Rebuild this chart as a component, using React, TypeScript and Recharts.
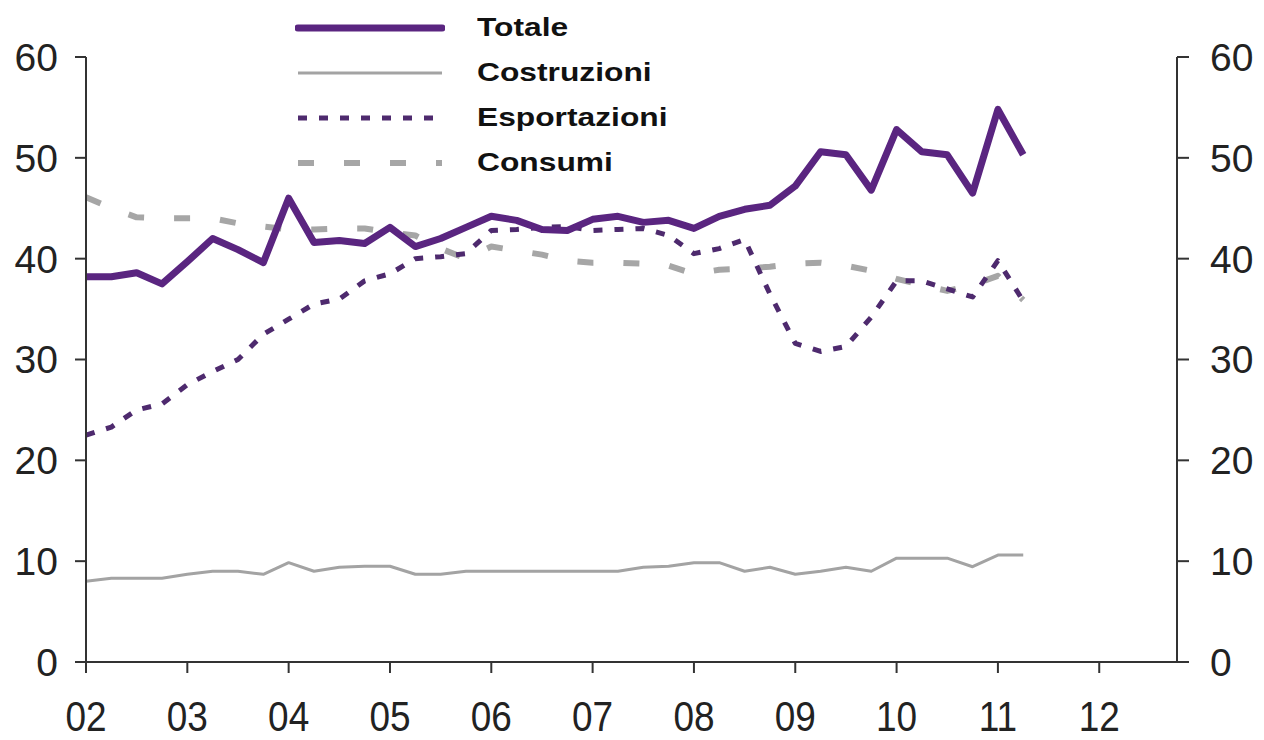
import React from "react";
import { LineChart, Line, XAxis, YAxis, Legend } from "recharts";

// trimestri 2002T1 - 2011T2
const trimestri = [
  "02T1", "02T2", "02T3", "02T4", "03T1", "03T2", "03T3", "03T4",
  "04T1", "04T2", "04T3", "04T4", "05T1", "05T2", "05T3", "05T4",
  "06T1", "06T2", "06T3", "06T4", "07T1", "07T2", "07T3", "07T4",
  "08T1", "08T2", "08T3", "08T4", "09T1", "09T2", "09T3", "09T4",
  "10T1", "10T2", "10T3", "10T4", "11T1", "11T2",
];

const totale = [
  38.2, 38.2, 38.6, 37.5, 39.7, 42.0, 40.9, 39.6,
  46.0, 41.6, 41.8, 41.5, 43.1, 41.2, 42.0, 43.1,
  44.2, 43.8, 42.9, 42.8, 43.9, 44.2, 43.6, 43.8,
  43.0, 44.2, 44.9, 45.3, 47.2, 50.6, 50.3, 46.8,
  52.8, 50.6, 50.3, 46.5, 54.8, 50.3,
];

const costruzioni = [
  8.0, 8.3, 8.3, 8.3, 8.7, 9.0, 9.0, 8.7,
  9.85, 9.0, 9.4, 9.5, 9.5, 8.7, 8.7, 9.0,
  9.0, 9.0, 9.0, 9.0, 9.0, 9.0, 9.4, 9.5,
  9.85, 9.85, 9.0, 9.4, 8.7, 9.0, 9.4, 9.0,
  10.3, 10.3, 10.3, 9.45, 10.6, 10.6,
];

const esportazioni = [
  22.5, 23.3, 25.0, 25.6, 27.5, 28.8, 30.0, 32.5,
  34.0, 35.5, 36.0, 37.8, 38.5, 40.0, 40.2, 40.5,
  42.8, 42.9, 43.1, 43.2, 42.8, 42.9, 43.0, 42.3,
  40.5, 41.0, 41.9, 36.5, 31.6, 30.8, 31.3, 34.2,
  37.8, 37.8, 37.0, 36.2, 39.8, 35.8,
];

const consumi = [
  46.1, 45.0, 44.1, 44.0, 44.0, 44.0, 43.5, 43.2,
  42.9, 42.9, 43.0, 43.0, 42.6, 42.3, 41.0, 40.0,
  41.2, 40.8, 40.4, 39.8, 39.6, 39.6, 39.5, 39.3,
  38.5, 38.9, 39.0, 39.2, 39.5, 39.6, 39.3, 38.8,
  38.0, 37.4, 36.8, 37.4, 38.3, 35.9,
];

const anni = ["02", "03", "04", "05", "06", "07", "08", "09", "10", "11", "12"];
const yTicks = [0, 10, 20, 30, 40, 50, 60];

const data = trimestri.map((t, i) => ({
  t,
  x: i,
  totale: totale[i],
  costruzioni: costruzioni[i],
  esportazioni: esportazioni[i],
  consumi: consumi[i],
}));

const xTicks = anni.map((_, i) => i * 4);

const FONT = "'Liberation Sans', Arial, sans-serif";
const AXIS = "#333";

// both value axes share the 0-60 scale; costruzioni is hung on the right one
const serie = [
  { key: "totale", name: "Totale", color: "#5a2580", width: 7, dash: undefined, cap: "round", axis: "left" },
  { key: "costruzioni", name: "Costruzioni", color: "#a3a3a3", width: 3, dash: undefined, cap: "butt", axis: "right" },
  { key: "esportazioni", name: "Esportazioni", color: "#4e2a6e", width: 5, dash: "9 12", cap: "butt", axis: "left" },
  { key: "consumi", name: "Consumi", color: "#a6a6a6", width: 6, dash: "16 30", cap: "butt", axis: "left" },
];

const XTick = (props: any) => {
  const { x, y, payload } = props;
  return (
    <g transform={`translate(${x},${y})`}>
      <text
        transform="scale(0.88,1)"
        textAnchor="middle"
        y={56}
        fontSize={42}
        fill="#222"
        fontFamily={FONT}
      >
        {anni[Math.round(payload.value / 4)]}
      </text>
    </g>
  );
};

const Legenda = () => (
  <div style={{ fontFamily: FONT }}>
    {serie.map((s) => (
      <div key={s.key} style={{ display: "flex", alignItems: "center", height: 45 }}>
        <svg width={150} height={14}>
          <line
            x1={3}
            y1={7}
            x2={147}
            y2={7}
            stroke={s.color}
            strokeWidth={s.width}
            strokeDasharray={s.dash}
            strokeLinecap={s.cap as any}
          />
        </svg>
        <span
          style={{
            marginLeft: 32,
            fontWeight: "bold",
            fontSize: 25,
            color: "#111",
            display: "inline-block",
            transform: "scaleX(1.27)",
            transformOrigin: "left center",
          }}
        >
          {s.name}
        </span>
      </div>
    ))}
  </div>
);

export default function App() {
  return (
    <LineChart
      width={1250}
      height={732}
      data={data}
      margin={{ top: 49, right: 0, bottom: 0, left: 0 }}
      style={{ fontFamily: FONT }}
    >
      <XAxis
        dataKey="x"
        type="number"
        domain={[0, 43.07]}
        ticks={xTicks}
        interval={0}
        height={78}
        tickSize={11}
        tickMargin={2}
        tick={<XTick />}
        axisLine={{ stroke: AXIS, strokeWidth: 2 }}
        tickLine={{ stroke: AXIS, strokeWidth: 2 }}
      />
      <YAxis
        yAxisId="left"
        domain={[0, 60]}
        ticks={yTicks}
        width={78}
        tickSize={11}
        tickMargin={17}
        tick={{ fontSize: 39, fill: "#222", fontFamily: FONT }}
        axisLine={{ stroke: AXIS, strokeWidth: 2 }}
        tickLine={{ stroke: AXIS, strokeWidth: 2 }}
      />
      <YAxis
        yAxisId="right"
        orientation="right"
        domain={[0, 60]}
        ticks={yTicks}
        width={81}
        tickSize={12}
        tickMargin={21}
        tick={{ fontSize: 39, fill: "#222", fontFamily: FONT }}
        axisLine={{ stroke: AXIS, strokeWidth: 2 }}
        tickLine={{ stroke: AXIS, strokeWidth: 2 }}
      />
      <Legend
        layout="vertical"
        align="center"
        verticalAlign="middle"
        content={<Legenda />}
        wrapperStyle={{ left: 287, top: -3, width: 420 }}
      />
      {[...serie].reverse().map((s) => (
        <Line
          key={s.key}
          yAxisId={s.axis}
          type="linear"
          dataKey={s.key}
          name={s.name}
          stroke={s.color}
          strokeWidth={s.width}
          strokeDasharray={s.dash}
          strokeLinejoin="round"
          dot={false}
          activeDot={false}
          isAnimationActive={false}
        />
      ))}
    </LineChart>
  );
}
